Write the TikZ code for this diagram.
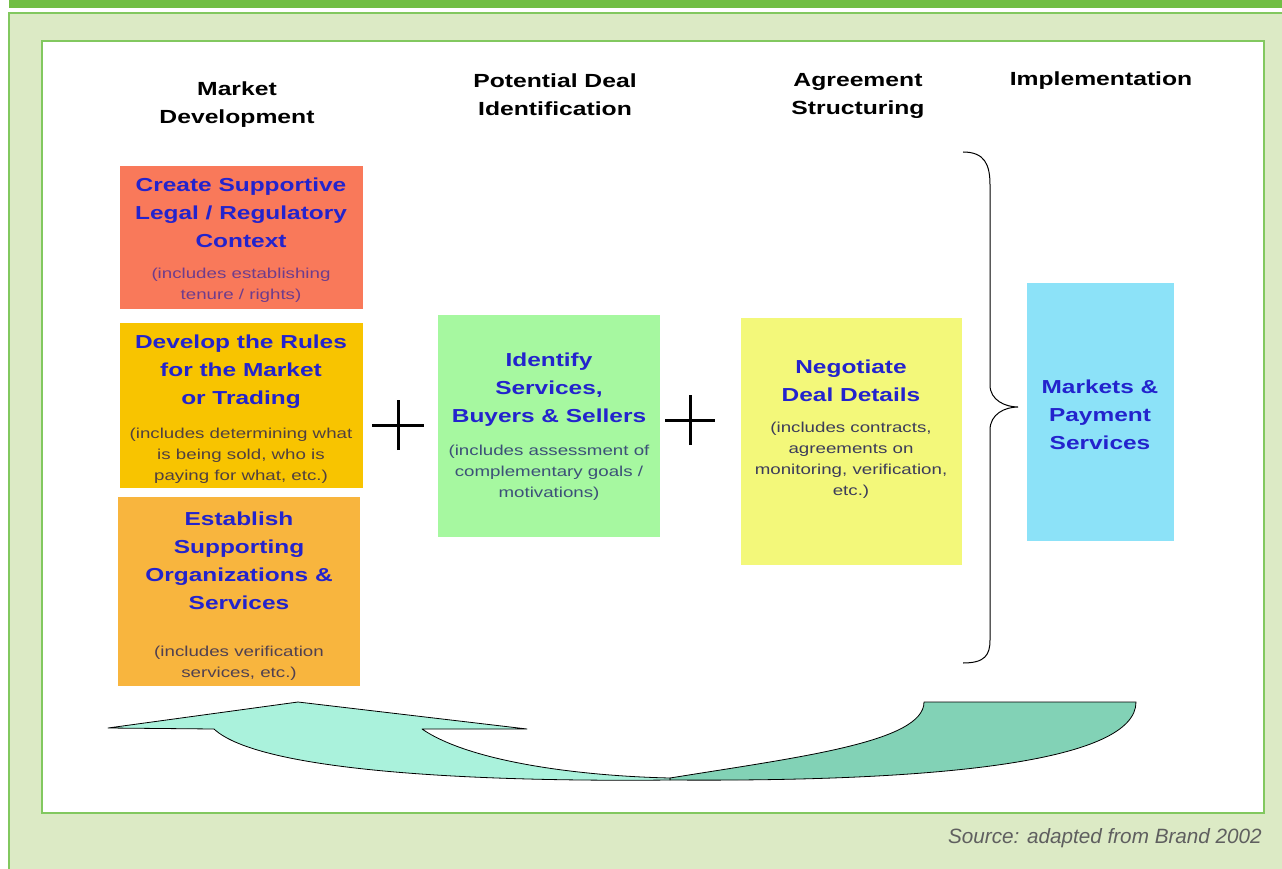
\documentclass[tikz,border=0pt]{standalone}
\usepackage{fontspec}
\setmainfont{Liberation Sans}
\newfontfamily\wf{Liberation Sans}[FakeStretch=1.3]
\definecolor{barG}{RGB}{113,190,68}
\definecolor{panelG}{RGB}{220,234,197}
\definecolor{lineG}{RGB}{130,200,95}
\definecolor{redbox}{RGB}{249,121,90}
\definecolor{goldbox}{RGB}{248,196,0}
\definecolor{orgbox}{RGB}{248,181,62}
\definecolor{grnbox}{RGB}{166,248,160}
\definecolor{yelbox}{RGB}{243,248,122}
\definecolor{blubox}{RGB}{140,226,248}
\definecolor{ttlblue}{RGB}{35,35,205}
\definecolor{arrLight}{RGB}{170,242,220}
\definecolor{arrDark}{RGB}{130,210,182}
\definecolor{srcgray}{RGB}{95,95,95}
\begin{document}
\begin{tikzpicture}[x=1pt,y=-1pt,
  hdr/.style={font=\wf\bfseries\fontsize{19}{28}\selectfont, align=center, text=black, inner sep=0},
  ttl/.style={font=\wf\bfseries\fontsize{18.8}{28}\selectfont, align=center, text=ttlblue, inner sep=0},
  sub/.style={font=\wf\fontsize{14.4}{21}\selectfont, align=center, inner sep=0},
  stagebox/.style={draw=none, inner sep=0, anchor=north west},
  plus/.style={line width=3pt},
  arrpart/.style={draw=black, line width=0.8pt, line join=round}]
\useasboundingbox (0,0) rectangle (1282,869);
% frame
\fill[barG] (9,0) rectangle (1282,8);
\filldraw[fill=panelG, draw=lineG, line width=1.2pt] (9,13) rectangle (1290,880);
\filldraw[fill=white, draw=lineG, line width=1.2pt] (42,41) rectangle (1264,813);
% headings
\node[hdr] (h1) at (237,105) {Market\\Development};
\node[hdr] (h2) at (555,95) {Potential Deal\\Identification};
\node[hdr] (h3) at (858,96) {Agreement\\Structuring};
\node[hdr] (h4) at (1101,81) {Implementation};
% boxes
\node[stagebox, fill=redbox, minimum width=243pt, minimum height=143pt] (b1) at (120,166) {};
\node[stagebox, fill=goldbox, minimum width=243pt, minimum height=165pt] (b2) at (120,323) {};
\node[stagebox, fill=orgbox, minimum width=242pt, minimum height=189pt] (b3) at (118,497) {};
\node[stagebox, fill=grnbox, minimum width=222pt, minimum height=222pt] (b4) at (438,315) {};
\node[stagebox, fill=yelbox, minimum width=221pt, minimum height=247pt] (b5) at (741,318) {};
\node[stagebox, fill=blubox, minimum width=147pt, minimum height=258pt] (b6) at (1027,283) {};
% box texts
\node[ttl] (t1) at (241,213) {Create Supportive\\Legal / Regulatory\\Context};
\node[sub, text={rgb,255:red,110;green,60;blue,140}] (s1) at (241,285) {(includes establishing\\tenure / rights)};
\node[ttl] (t2) at (241,372) {Develop the Rules\\for the Market\\or Trading};
\node[sub, text={rgb,255:red,80;green,64;blue,64}] (s2) at (241,456) {(includes determining what\\is being sold, who is\\paying for what, etc.)};
\node[ttl] (t3) at (239,561) {Establish\\Supporting\\Organizations \&\\Services};
\node[sub, text={rgb,255:red,80;green,64;blue,80}] (s3) at (239,663) {(includes verification\\services, etc.)};
\node[ttl] (t4) at (549,390) {Identify\\Services,\\Buyers \& Sellers};
\node[sub, text={rgb,255:red,60;green,80;blue,120}] (s4) at (549,473) {(includes assessment of\\complementary goals /\\motivations)};
\node[ttl] (t5) at (851,381) {Negotiate\\Deal Details};
\node[sub, text={rgb,255:red,60;green,60;blue,90}] (s5) at (851,460) {(includes contracts,\\agreements on\\monitoring, verification,\\etc.)};
\node[ttl] (t6) at (1100,415) {Markets \&\\Payment\\Services};
% plus signs
\coordinate (p1) at (398,425);
\coordinate (p2) at (690,420);
\draw[plus] ([xshift=-26pt]p1) -- ([xshift=26pt]p1);
\draw[plus] ([yshift=-25pt]p1) -- ([yshift=25pt]p1);
\draw[plus] ([xshift=-25pt]p2) -- ([xshift=25pt]p2);
\draw[plus] ([yshift=-25pt]p2) -- ([yshift=25pt]p2);
% brace
\draw[line width=1pt] (963,152) .. controls (985,152) and (990,165) .. (990,185)
  -- (990,385) .. controls (990,400) and (1005,407) .. (1018,407)
  .. controls (1005,407) and (990,414) .. (990,430)
  -- (990,640) .. controls (990,655) and (985,663) .. (963,663);
% curved arrow
\filldraw[arrpart, fill=arrDark] (670,778) .. controls (800,757) and (924,742) .. (924,702)
  -- (1136,702) .. controls (1136,760) and (950,782) .. (670,780) -- cycle;
\filldraw[arrpart, fill=arrLight] (108,728) -- (298,702) -- (527,729) -- (422,729)
  .. controls (470,762) and (580,776) .. (670,778)
  -- (670,780) .. controls (480,782) and (260,772) .. (214,729) -- cycle;
% source
\node[font=\itshape\fontsize{20.7}{24}\selectfont, text=srcgray, anchor=east, inner sep=0] (src) at (1262,838) {Source: adapted from Brand 2002};
\end{tikzpicture}
\end{document}
